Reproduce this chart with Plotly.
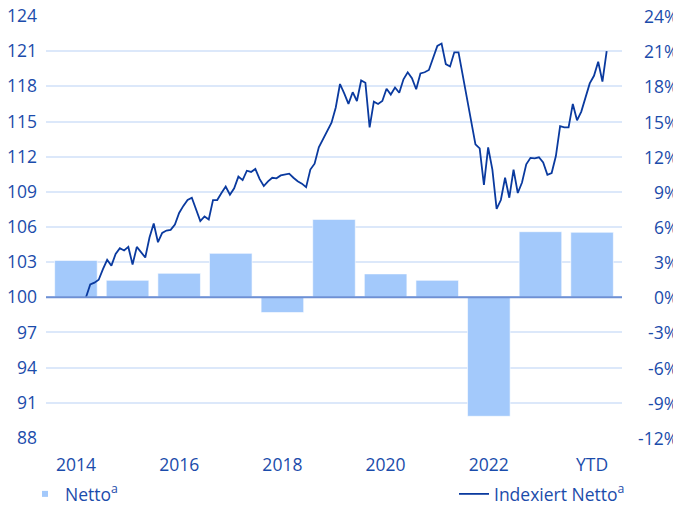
import plotly.graph_objects as go

# ---- data ----
categories = ["2014", "2015", "2016", "2017", "2018", "2019", "2020", "2021", "2022", "2023", "YTD"]
netto_pct = [3.15, 1.45, 2.05, 3.75, -1.3, 6.65, 2.0, 1.45, -10.15, 5.6, 5.55]

x_tick_vals = ["2014", "2016", "2018", "2020", "2022", "YTD"]

left_ticks = [88, 91, 94, 97, 100, 103, 106, 109, 112, 115, 118, 121, 124]
right_ticks = [-12, -9, -6, -3, 0, 3, 6, 9, 12, 15, 18, 21, 24]
right_tick_text = [f"{v}%" for v in right_ticks]

# monthly indexed net values (Jun 2014 .. Sep 2024)
indexed = [
    100.0, 101.1, 101.25, 101.5, 102.4, 103.2, 102.7, 103.7, 104.2, 104.0,
    104.3, 102.8, 104.3, 103.8, 103.4, 105.1, 106.3, 104.7, 105.5, 105.7,
    105.75, 106.2, 107.2, 107.8, 108.3, 108.5, 107.5, 106.5, 106.9, 106.65,
    108.3, 108.3, 108.9, 109.45, 108.75, 109.3, 110.3, 110.0, 110.8, 110.7,
    110.95, 110.1, 109.5, 109.9, 110.2, 110.15, 110.4, 110.5, 110.55, 110.2,
    109.9, 109.7, 109.4, 110.9, 111.4, 112.8, 113.5, 114.1, 114.9, 116.2,
    118.2, 117.4, 116.5, 117.5, 116.75, 118.5, 118.3, 114.5, 116.7, 116.5,
    116.75, 117.8, 117.3, 117.9, 117.45, 118.6, 119.2, 118.7, 117.75, 119.1,
    119.2, 119.4, 120.45, 121.45, 121.65, 119.9, 119.7, 120.9, 120.9, 118.9,
    116.9, 115.05, 113.05, 112.7, 109.6, 112.8, 110.9, 107.55, 108.3, 110.2,
    108.5, 110.9, 108.9, 109.8, 111.35, 111.9, 111.85, 111.95, 111.5, 110.45,
    110.6, 112.05, 114.6, 114.5, 114.5, 116.5, 115.1, 115.85, 116.95, 118.25,
    118.9, 120.1, 118.4, 121.0,
]
month_index = list(range(len(indexed)))

# ---- styles ----
TEXT = "#1b4cab"
BAR = "#a3c9fb"
LINE = "#0a3a9f"
GRID = "#dce8fa"
ZERO = "#6e90d4"
FONT = "Open Sans"
FS = 17.5

fig = go.Figure()

# bars on the primary subplot (x / y = percent axis)
fig.add_trace(go.Bar(
    x=categories, y=netto_pct, xaxis="x", yaxis="y",
    marker=dict(color=BAR, line=dict(color="rgba(255,255,255,0.6)", width=1)),
    name="Netto", showlegend=False,
))
# small square legend entry for the bars
fig.add_trace(go.Scatter(
    x=[None], y=[None], mode="markers", xaxis="x", yaxis="y",
    marker=dict(symbol="square", size=6, color=BAR),
    name="Netto<sup>a</sup>", legend="legend",
))
# line on overlay axes (x2 / y2 = index axis, left)
fig.add_trace(go.Scatter(
    x=month_index, y=indexed, xaxis="x2", yaxis="y2", mode="lines",
    line=dict(color=LINE, width=1.8),
    name="Indexiert Netto<sup>a</sup>", legend="legend2",
))

# page has an 8px body margin -> figure coordinates are page coordinates - 8
W, H = 673, 502
ML, MR, MT, MB = 38, 59, 8, 72
plot_w = W - ML - MR
plot_h = H - MT - MB
EPS = 0.002

annotations = [
    dict(
        x=(672 - ML) / plot_w, xref="paper", xanchor="right",
        y=v, yref="y", yanchor="middle", text=t, showarrow=False,
        font=dict(family=FONT, size=FS, color=TEXT),
    )
    for v, t in zip(right_ticks, right_tick_text)
]

fig.update_layout(
    width=W, height=H,
    margin=dict(l=ML, r=MR, t=MT, b=MB, pad=0, autoexpand=False),
    paper_bgcolor="white", plot_bgcolor="white",
    font=dict(family=FONT, size=FS, color=TEXT),
    bargap=0.175,
    xaxis=dict(
        type="category", range=[-0.58, 10.58],
        tickmode="array", tickvals=x_tick_vals, ticktext=x_tick_vals,
        showgrid=False, zeroline=False, showline=False, ticks="",
        ticklabelstandoff=14,
    ),
    xaxis2=dict(
        overlaying="x", anchor="y2",
        range=[-9.45, 126.62], visible=False,
    ),
    yaxis=dict(
        range=[-12 - EPS, 24 + EPS], tickvals=right_ticks, side="right",
        showticklabels=False,
        showgrid=True, gridcolor=GRID, gridwidth=1.5, zeroline=False,
        showline=False, ticks="",
    ),
    yaxis2=dict(
        range=[88 - EPS, 124 + EPS], tickvals=left_ticks, ticktext=[str(v) for v in left_ticks],
        overlaying="y", side="left", anchor="x",
        showgrid=False, zeroline=False, showline=False, ticks="",
        ticklabelstandoff=8, ticklabeloverflow="allow",
    ),
    legend=dict(
        orientation="h", x=-0.0365, xanchor="left", y=-56 / plot_h, yanchor="middle",
        font=dict(family=FONT, size=FS, color=TEXT), bgcolor="rgba(0,0,0,0)",
    ),
    legend2=dict(
        orientation="h", x=(622 - ML) / plot_w, xanchor="right", y=-56 / plot_h, yanchor="middle",
        font=dict(family=FONT, size=FS, color=TEXT), bgcolor="rgba(0,0,0,0)",
    ),
    annotations=annotations,
    shapes=[dict(
        type="line", xref="x domain", yref="y", x0=0, x1=1, y0=0, y1=0,
        line=dict(color=ZERO, width=2), layer="above",
    )],
)

fig.write_html("out.html")
